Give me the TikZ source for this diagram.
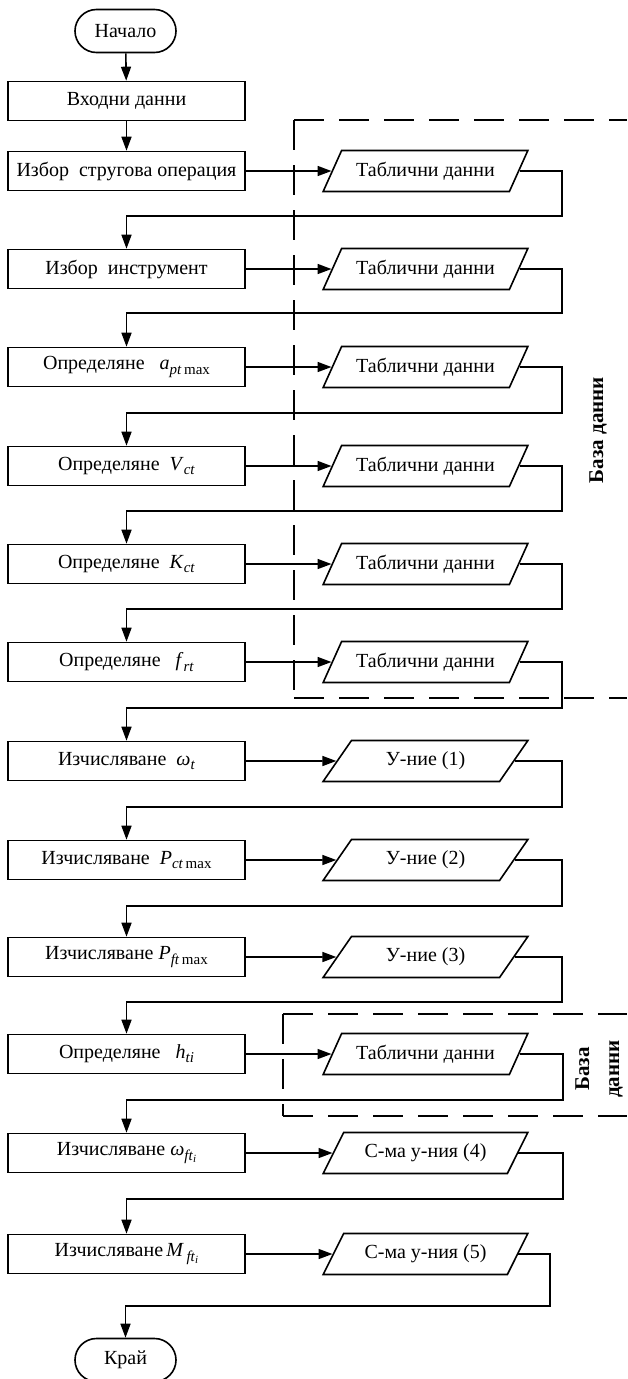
\documentclass[tikz,border=0pt]{standalone}
\usepackage{fontspec}
\setmainfont{Liberation Serif}
\usetikzlibrary{shapes.geometric,shapes.misc,arrows.meta,calc}
\newcommand\sbx[1]{\raisebox{-0.45ex}{\fontsize{15}{15}\selectfont #1}}
\newcommand\ssbx[1]{\raisebox{-0.4ex}{\fontsize{11}{11}\selectfont #1}}
\begin{document}
\begin{tikzpicture}[x=1pt,y=-1pt,
  every node/.style={font=\fontsize{20}{24}\selectfont},
  arr/.style={line width=1.6pt,-{Triangle[length=14pt,width=10pt]}},
  procbox/.style={draw,line width=1.6pt,rectangle,minimum width=237pt,minimum height=39pt,inner sep=0pt},
  term/.style={draw,line width=1.6pt,rounded rectangle,minimum width=101pt,minimum height=43pt,inner sep=0pt},
  iobox/.style={draw,line width=1.6pt,trapezium,trapezium left angle=50,trapezium right angle=130,trapezium stretches=true,minimum width=205pt,minimum height=41pt,inner sep=0pt},
  frame/.style={line width=1.6pt,dash pattern=on 30pt off 15pt},
  dblabel/.style={font=\fontsize{21}{30}\selectfont\bfseries,rotate=90,align=center}
]
\useasboundingbox (0,0) rectangle (627,1379);
\fill[white] (0,0) rectangle (627,1379);

% dashed frames
\draw[frame] (294,120) -- (627,120);
\draw[frame] (294,120) -- (294,698);
\draw[frame] (294,698) -- (627,698);
\draw[frame] (283,1014) -- (627,1014);
\draw[frame] (283,1014) -- (283,1116);
\draw[frame] (283,1116) -- (627,1116);
\node[dblabel] (db1) at (598,430) {База данни};
\node[dblabel] (db2) at (599,1069) {База\\данни};

% terminals and input
\node[term] (start) at (125.5,31) {Начало};
\node[procbox] (in) at (126.5,101) {Входни данни};

% process boxes
\node[procbox] (b1) at (126.5,171) {Избор\ \ стругова операция};
\node[procbox] (b2) at (126.5,269) {Избор\ \ инструмент};
\node[procbox] (b3) at (126.5,367) {Определяне\ \ \ \textit{a}\sbx{\textit{pt}\,max}};
\node[procbox] (b4) at (126.5,466) {Определяне\ \ \textit{V}\sbx{\textit{ct}}};
\node[procbox] (b5) at (126.5,564) {Определяне\ \ \textit{K}\sbx{\textit{ct}}};
\node[procbox] (b6) at (126.5,662) {Определяне\ \ \ \textit{f}\sbx{\textit{rt}}};
\node[procbox] (b7) at (126.5,761) {Изчисляване\ \ \textit{ω}\sbx{\textit{t}}\hspace{0.8em}};
\node[procbox] (b8) at (126.5,860) {Изчисляване\ \ \textit{P}\sbx{\textit{ct}\,max}};
\node[procbox] (b9) at (126.5,957) {Изчисляване \textit{P}\sbx{\textit{ft}\,max}};
\node[procbox] (b10) at (126.5,1054) {Определяне\ \ \ \textit{h}\sbx{\textit{ti}}};
\node[procbox] (b11) at (126.5,1153) {Изчисляване \textit{ω}\sbx{\textit{ft}\ssbx{\textit{i}}}};
\node[procbox] (b12) at (126.5,1254) {Изчисляване\,\textit{M}\sbx{\,\textit{ft}\ssbx{\textit{i}}}};
\node[term] (end) at (125.5,1360) {Край};

% io boxes
\node[iobox] (p1) at (425.5,171) {Таблични данни};
\node[iobox] (p2) at (425.5,269) {Таблични данни};
\node[iobox] (p3) at (425.5,367) {Таблични данни};
\node[iobox] (p4) at (425.5,466) {Таблични данни};
\node[iobox] (p5) at (425.5,564) {Таблични данни};
\node[iobox] (p6) at (425.5,662) {Таблични данни};
\node[iobox] (p7) at (425.5,761) {У-ние (1)};
\node[iobox] (p8) at (425.5,860) {У-ние (2)};
\node[iobox] (p9) at (425.5,957) {У-ние (3)};
\node[iobox] (p10) at (425.5,1054) {Таблични данни};
\node[iobox] (p11) at (425.5,1153) {С-ма у-ния (4)};
\node[iobox] (p12) at (425.5,1254) {С-ма у-ния (5)};

% return turn points
\coordinate (t1) at (562,216);
\coordinate (t2) at (562,313);
\coordinate (t3) at (562,413);
\coordinate (t4) at (562,511);
\coordinate (t5) at (562,609);
\coordinate (t6) at (562,708);
\coordinate (t7) at (562,807);
\coordinate (t8) at (562,906);
\coordinate (t9) at (562,1002);
\coordinate (t10) at (563,1100);
\coordinate (t11) at (563,1199);
\coordinate (t12) at (550,1306);

% connectors
\draw[arr] (start) -- (in);
\draw[arr] (in) -- (b1);
\foreach \i in {1,...,12} {
  \draw[arr] (b\i.east) -- (p\i.west);
}
\foreach \i/\j in {1/2,2/3,3/4,4/5,5/6,6/7,7/8,8/9,9/10,10/11,11/12} {
  \draw[arr] (p\i.east) -| (t\i) -| (b\j.north);
}
\draw[arr] (p12.east) -| (t12) -| (end.north);
\end{tikzpicture}
\end{document}
